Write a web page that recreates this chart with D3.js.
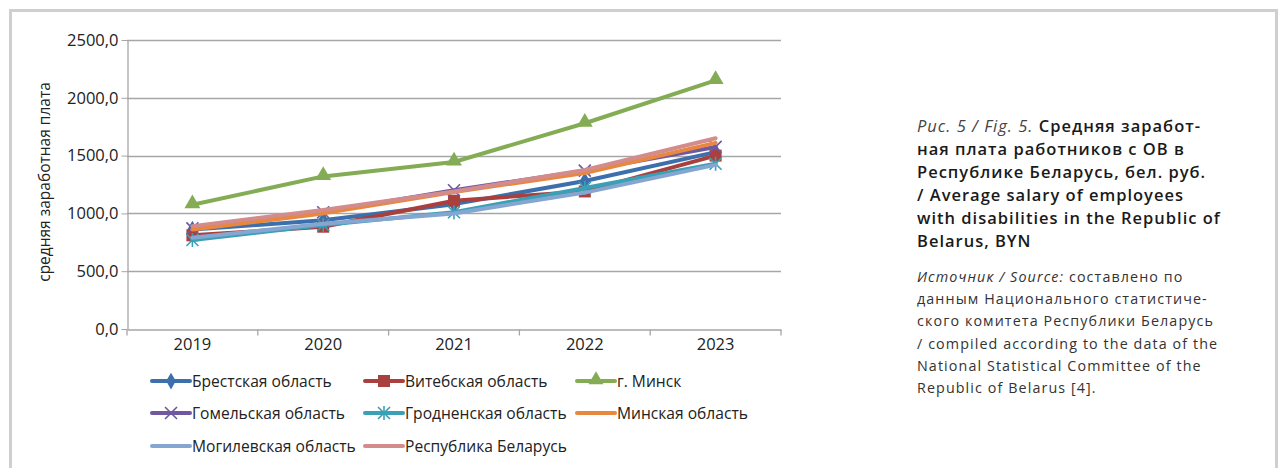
<!DOCTYPE html>
<html lang="ru">
<head>
<meta charset="utf-8">
<title>Средняя заработная плата</title>
<script src="https://cdn.jsdelivr.net/npm/d3@7/dist/d3.min.js"></script>
<style>
  body { margin: 0; background: #fff; }
  svg { display: block; }
  .axis text { font-family: "Open Sans", "Noto Sans", sans-serif; font-size: 16.5px; fill: #222; }
  .legend text { font-family: "Open Sans", "Noto Sans", sans-serif; font-size: 15.6px; fill: #222; }
  .cap { font-family: "Open Sans", "Noto Sans", sans-serif; }
</style>
</head>
<body>
<script>
// data
var years = ["2019", "2020", "2021", "2022", "2023"];
var yTicks = [0, 500, 1000, 1500, 2000, 2500];

var brest   = [860, 940, 1080, 1280, 1530];
var vitebsk = [810, 885, 1110, 1190, 1500];
var minsk   = [1075, 1320, 1445, 1780, 2150];
var gomel   = [870, 1010, 1200, 1370, 1575];
var grodno  = [770, 900, 1010, 1220, 1430];
var minskObl = [860, 1000, 1185, 1350, 1610];
var mogilev = [790, 910, 1000, 1180, 1420];
var belarus = [890, 1030, 1190, 1375, 1650];

var seriesNames = ["Брестская область", "Витебская область", "г. Минск",
                   "Гомельская область", "Гродненская область", "Минская область",
                   "Могилевская область", "Республика Беларусь"];
var seriesColors = ["#3c6fab", "#a9403e", "#84ac55", "#6f58a0", "#3aa0b6", "#e8873e", "#86a6d2", "#d38c8b"];
var seriesMarkers = ["diamond", "square", "triangle", "x", "star", "none", "none", "none"];

var series = [brest, vitebsk, minsk, gomel, grodno, minskObl, mogilev, belarus].map(function(v, i) {
  return { name: seriesNames[i], values: v, color: seriesColors[i], marker: seriesMarkers[i] };
});

var W = 1287, H = 468;
var svg = d3.select("body").append("svg").attr("width", W).attr("height", H);

// frame
svg.append("rect").attr("x", 10.5).attr("y", 10.5).attr("width", W - 21).attr("height", H + 10)
  .attr("fill", "none").attr("stroke", "#cfcfcf").attr("stroke-width", 3);

var x = d3.scaleBand().domain(years).range([127, 781]);
var y = d3.scaleLinear().domain([0, 2500]).range([329, 40]);

// gridlines
svg.append("g").selectAll("line").data(yTicks.slice(1)).enter().append("line")
  .attr("x1", 127).attr("x2", 781)
  .attr("y1", function(d) { return Math.round(y(d)) + 0.5; })
  .attr("y2", function(d) { return Math.round(y(d)) + 0.5; })
  .attr("stroke", "#a6a6a6").attr("stroke-width", 1.3);

// y axis
var yAxis = d3.axisLeft(y).tickValues(yTicks).tickSize(6).tickSizeOuter(0)
  .tickFormat(function(d) { return d3.format(".1f")(d).replace(".", ","); });
var gy = svg.append("g").attr("class", "axis").attr("transform", "translate(127.5,0)").call(yAxis);
gy.select(".domain").attr("stroke", "#a6a6a6").attr("stroke-width", 1.3);
gy.selectAll(".tick line").attr("stroke", "#a6a6a6");
gy.selectAll(".tick text").attr("x", -9);

// x axis
var xAxis = d3.axisBottom(x).tickSize(0);
var gx = svg.append("g").attr("class", "axis").attr("transform", "translate(0,329.5)").call(xAxis);
gx.select(".domain").attr("stroke", "#a6a6a6").attr("stroke-width", 1.3);
gx.selectAll(".tick text").attr("y", 9);
// category boundary ticks
gx.selectAll(".bnd").data(years.concat(["end"])).enter().append("line")
  .attr("x1", function(d, i) { return 127 + i * x.bandwidth(); })
  .attr("x2", function(d, i) { return 127 + i * x.bandwidth(); })
  .attr("y1", 0).attr("y2", 6).attr("stroke", "#a6a6a6").attr("stroke-width", 1.3);

// y title
svg.append("text")
  .attr("transform", "translate(50,182) rotate(-90)")
  .attr("text-anchor", "middle")
  .style("font-family", "'Open Sans', 'Noto Sans', sans-serif").style("font-size", "15.5px").attr("fill", "#222")
  .text("средняя заработная плата");

function drawMarker(g, type, cx, cy, color, s) {
  s = s || 1;
  if (type === "diamond") {
    g.append("path").attr("d", d3.symbol().type(d3.symbolDiamond).size(90 * s)())
      .attr("transform", "translate(" + cx + "," + cy + ")").attr("fill", color);
  } else if (type === "square") {
    g.append("rect").attr("x", cx - 6).attr("y", cy - 6).attr("width", 12).attr("height", 12).attr("fill", color);
  } else if (type === "triangle") {
    g.append("path").attr("d", d3.symbol().type(d3.symbolTriangle).size(110 * s)())
      .attr("transform", "translate(" + cx + "," + (cy - 1) + ")").attr("fill", color);
  } else if (type === "x") {
    g.append("path").attr("d", "M-6,-6L6,6M-6,6L6,-6")
      .attr("transform", "translate(" + cx + "," + cy + ")").attr("stroke", color).attr("stroke-width", 1.6);
  } else if (type === "star") {
    g.append("path").attr("d", "M-6,-6L6,6M-6,6L6,-6M0,-7L0,7")
      .attr("transform", "translate(" + cx + "," + cy + ")").attr("stroke", color).attr("stroke-width", 1.6);
  }
}

var line = d3.line()
  .x(function(d, i) { return x(years[i]) + x.bandwidth() / 2; })
  .y(function(d) { return y(d); });

var plot = svg.append("g");
// draw order: later series on top (Excel-like)
series.forEach(function(s) {
  var g = plot.append("g");
  g.append("path").attr("d", line(s.values)).attr("fill", "none")
    .attr("stroke", s.color).attr("stroke-width", 4).attr("stroke-linejoin", "round").attr("stroke-linecap", "round");
  s.values.forEach(function(v, i) {
    drawMarker(g, s.marker, x(years[i]) + x.bandwidth() / 2, y(v), s.color);
  });
});

// legend
var legPos = [[152, 381], [365, 381], [577, 381], [152, 413], [365, 413], [577, 413], [152, 446], [365, 446]];
var leg = svg.append("g").attr("class", "legend");
series.forEach(function(s, i) {
  var p = legPos[i];
  var g = leg.append("g");
  g.append("line").attr("x1", p[0]).attr("x2", p[0] + 38).attr("y1", p[1]).attr("y2", p[1])
    .attr("stroke", s.color).attr("stroke-width", 4).attr("stroke-linecap", "round");
  drawMarker(g, s.marker, p[0] + 19, p[1], s.color, 0.9);
  g.append("text").attr("x", p[0] + 40).attr("y", p[1] + 5.5).text(s.name);
});

// caption
var capX = 917;
var titleLines = [
  [["Рис. 5 / Fig. 5. ", "italic"], ["Средняя заработ-", "bold"]],
  [["ная плата работников с ОВ  в", "bold"]],
  [["Республике Беларусь, бел. руб.", "bold"]],
  [["/ Average salary of employees", "bold"]],
  [["with disabilities in the Republic of", "bold"]],
  [["Belarus, BYN", "bold"]]
];
titleLines.forEach(function(parts, i) {
  var t = svg.append("text").attr("class", "cap").attr("x", capX).attr("y", 132 + i * 23)
    .style("font-size", "16.5px").style("letter-spacing", "1px").attr("fill", "#1a1a1a");
  parts.forEach(function(p) {
    var ts = t.append("tspan").text(p[0]);
    if (p[1] === "italic") ts.style("font-style", "italic").attr("fill", "#444");
    else ts.style("font-weight", "600");
  });
});
var srcLines = [
  [["Источник / Source: ", "italic"], ["составлено по", "n"]],
  [["данным Национального статистиче-", "n"]],
  [["ского комитета Республики Беларусь", "n"]],
  [["/ compiled according to the data of the", "n"]],
  [["National Statistical Committee of the", "n"]],
  [["Republic of Belarus [4].", "n"]]
];
srcLines.forEach(function(parts, i) {
  var t = svg.append("text").attr("class", "cap").attr("x", capX).attr("y", 282 + i * 22.2)
    .style("font-size", "14.3px").style("letter-spacing", "1.1px").attr("fill", "#333");
  parts.forEach(function(p) {
    var ts = t.append("tspan").text(p[0]);
    if (p[1] === "italic") ts.style("font-style", "italic");
  });
});
</script>
</body>
</html>
